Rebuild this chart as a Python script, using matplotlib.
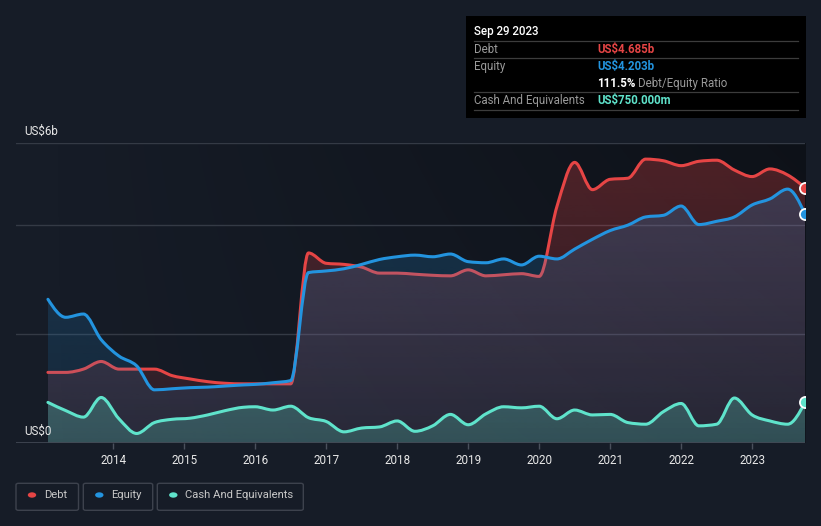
import numpy as np
import matplotlib
matplotlib.use("Agg")
import matplotlib.pyplot as plt
from matplotlib.path import Path
from matplotlib.patches import PathPatch, Rectangle, FancyBboxPatch, Circle

plt.rcParams['font.family'] = ['Roboto', 'DejaVu Sans']

# ---------------- data (US$ billions) ----------------
dates = [2013.08, 2013.33, 2013.58, 2013.83, 2014.08, 2014.33, 2014.58, 2014.83,
         2015.08, 2015.33, 2015.58, 2015.83, 2016.0, 2016.25, 2016.5, 2016.75,
         2017.0, 2017.25, 2017.5, 2017.75, 2018.0, 2018.25, 2018.5, 2018.75,
         2019.0, 2019.25, 2019.5, 2019.75, 2020.0, 2020.25, 2020.5, 2020.75,
         2021.0, 2021.25, 2021.5, 2021.75, 2022.0, 2022.25, 2022.5, 2022.75,
         2023.0, 2023.25, 2023.5, 2023.745]
debt = [1.30, 1.30, 1.36, 1.50, 1.36, 1.36, 1.36, 1.24,
        1.18, 1.13, 1.10, 1.09, 1.09, 1.09, 1.09, 3.49,
        3.30, 3.28, 3.23, 3.12, 3.12, 3.10, 3.08, 3.07,
        3.18, 3.07, 3.09, 3.11, 3.06, 4.34, 5.15, 4.65,
        4.84, 4.86, 5.21, 5.18, 5.09, 5.17, 5.19, 5.01,
        4.89, 5.03, 4.92, 4.685]
equity = [2.64, 2.31, 2.37, 1.90, 1.60, 1.42, 0.98, 1.00,
          1.02, 1.03, 1.05, 1.07, 1.08, 1.11, 1.15, 3.13,
          3.16, 3.20, 3.28, 3.37, 3.42, 3.45, 3.42, 3.47,
          3.33, 3.31, 3.38, 3.27, 3.43, 3.38, 3.56, 3.74,
          3.90, 4.00, 4.15, 4.18, 4.35, 4.01, 4.07, 4.15,
          4.37, 4.48, 4.66, 4.203]
cash = [0.75, 0.60, 0.48, 0.84, 0.45, 0.18, 0.38, 0.44,
        0.46, 0.52, 0.60, 0.66, 0.67, 0.61, 0.68, 0.47,
        0.40, 0.21, 0.28, 0.30, 0.41, 0.22, 0.32, 0.53,
        0.34, 0.54, 0.67, 0.65, 0.68, 0.45, 0.61, 0.52,
        0.53, 0.38, 0.35, 0.58, 0.73, 0.32, 0.35, 0.83,
        0.52, 0.41, 0.35, 0.75]
year_ticks = [2014, 2015, 2016, 2017, 2018, 2019, 2020, 2021, 2022, 2023]
series_names = ["Debt", "Equity", "Cash And Equivalents"]
tooltip_date = "Sep 29 2023"
tooltip_debt = "US$4.685b"
tooltip_equity = "US$4.203b"
tooltip_ratio = "111.5%"
tooltip_cash = "US$750.000m"

# ---------------- styling ----------------
BG = '#161c27'
RED = '#e64545'
BLUE = '#2394df'
TEAL = '#5fe3cb'
W, H = 821, 526


def fx(x):
    return x / W


def fy(y):
    return 1 - y / H


def monotone_path(x, y, close_base=None):
    x = np.asarray(x, float)
    y = np.asarray(y, float)
    n = len(x)
    h = np.diff(x)
    s = np.diff(y) / h
    m = np.zeros(n)
    for i in range(1, n - 1):
        h0, h1, s0, s1 = h[i - 1], h[i], s[i - 1], s[i]
        p = (s0 * h1 + s1 * h0) / (h0 + h1)
        m[i] = (np.sign(s0) + np.sign(s1)) * min(abs(s0), abs(s1), 0.5 * abs(p))
    m[0] = (3 * s[0] - m[1]) / 2 if n > 2 else s[0]
    m[-1] = (3 * s[-1] - m[-2]) / 2 if n > 2 else s[-1]
    verts = [(x[0], y[0])]
    codes = [Path.MOVETO]
    for i in range(n - 1):
        dx = h[i] / 3
        verts += [(x[i] + dx, y[i] + dx * m[i]), (x[i + 1] - dx, y[i + 1] - dx * m[i + 1]), (x[i + 1], y[i + 1])]
        codes += [Path.CURVE4] * 3
    if close_base is not None:
        verts += [(x[-1], close_base), (x[0], close_base), (x[0], y[0])]
        codes += [Path.LINETO, Path.LINETO, Path.CLOSEPOLY]
    return Path(verts, codes)


fig = plt.figure(figsize=(W / 100, H / 100), dpi=100, facecolor=BG)
ax_left, ax_right, ax_top, ax_bot = 16, 805, 143.3, 443.3
ax = fig.add_axes([fx(ax_left), fy(ax_bot), (ax_right - ax_left) / W, (ax_bot - ax_top) / H])
ax.set_facecolor(BG)
YMAX = 5.5
ax.set_xlim(2012.63, 2023.745)
ax.set_ylim(0, YMAX)
for sp in ax.spines.values():
    sp.set_visible(False)

x0d, x1d = dates[0], dates[-1]

# dark overlay over data range: darker toward the right and top
gx = np.linspace(0, 1, 200).reshape(1, -1)
gy = np.linspace(1, 0.6, 100).reshape(-1, 1)
ov = np.zeros((100, 200, 4))
ov[..., 3] = 0.38 * gx * gy
ax.imshow(ov, extent=[x0d, x1d, 0, YMAX], aspect='auto', zorder=0.5, interpolation='bilinear', origin='upper')

# gridlines
for g in [2, 4, YMAX]:
    ax.axhline(g, color='#343a45', lw=1, zorder=1)
ax.axhline(0, color='#434955', lw=1.2, zorder=9)


def grad_fill(xs, ys, color, a_top, a_bot, z):
    patch = PathPatch(monotone_path(xs, ys, close_base=0), facecolor='none', edgecolor='none')
    ax.add_patch(patch)
    rgb = matplotlib.colors.to_rgb(color)
    img = np.zeros((256, 1, 4))
    img[..., 0], img[..., 1], img[..., 2] = rgb
    img[:, 0, 3] = np.linspace(a_top, a_bot, 256)
    im = ax.imshow(img, extent=[x0d, x1d, 0, YMAX], aspect='auto', zorder=z,
                   interpolation='bilinear', origin='upper')
    im.set_clip_path(patch)


def line(xs, ys, color, z):
    ax.add_patch(PathPatch(monotone_path(xs, ys), facecolor='none', edgecolor=color, lw=2.2,
                           zorder=z, capstyle='round', joinstyle='round'))


grad_fill(dates, debt, RED, 0.30, 0.10, 2)
line(dates, debt, RED, 3)
grad_fill(dates, equity, BLUE, 0.25, 0.10, 4)
line(dates, equity, BLUE, 5)
grad_fill(dates, cash, TEAL, 0.45, 0.22, 6)
line(dates, cash, TEAL, 7)

for ser, c in [(debt, RED), (equity, BLUE), (cash, TEAL)]:
    ax.plot([dates[-1]], [ser[-1]], 'o', ms=8, mfc=c, mec='white', mew=1.3, zorder=10, clip_on=True)

ax.set_xticks(year_ticks)
ax.set_xticklabels([str(y) for y in year_ticks])
ax.set_yticks([])
ax.tick_params(axis='x', colors='#4a505c', length=4, width=1, pad=3.5, labelcolor='#e8e8e8', labelsize=8.4)

fig.text(fx(24), fy(131.7), "US$6b", color='#e8e8e8', fontsize=8.4, va='center', ha='left')
fig.text(fx(24), fy(431), "US$0", color='#e8e8e8', fontsize=8.4, va='center', ha='left')

# tooltip
fig.patches.append(Rectangle((fx(466), fy(118)), (806 - 466) / W, (118 - 16) / H,
                             transform=fig.transFigure, facecolor='black', edgecolor='none', zorder=1))
for ly in [41.3, 58.3, 92.3, 110]:
    fig.lines.append(plt.Line2D([fx(474), fx(798)], [fy(ly), fy(ly)], transform=fig.transFigure,
                                color='#3c3c3c', lw=0.9))
fig.text(fx(474), fy(31), tooltip_date, color='white', fontsize=8.3, va='center', ha='left', fontweight='medium')
fig.text(fx(474), fy(49.5), series_names[0], color='#9a9a9a', fontsize=8.3, va='center')
fig.text(fx(474), fy(66.3), series_names[1], color='#9a9a9a', fontsize=8.3, va='center')
fig.text(fx(474), fy(100.3), series_names[2], color='#9a9a9a', fontsize=8.3, va='center')
fig.text(fx(597), fy(49.5), tooltip_debt, color=RED, fontsize=8.3, va='center', fontweight='bold')
fig.text(fx(597), fy(66.3), tooltip_equity, color=BLUE, fontsize=8.3, va='center', fontweight='bold')
fig.text(fx(597), fy(100.3), tooltip_cash, color=TEAL, fontsize=8.3, va='center', fontweight='bold')
t = fig.text(fx(597), fy(83.3), tooltip_ratio, color='white', fontsize=8.3, va='center', fontweight='bold')
fig.canvas.draw()
bb = t.get_window_extent()
fig.text(bb.x1 / W + fx(3), fy(83.3), "Debt/Equity Ratio", color='#9a9a9a', fontsize=8.3, va='center')

# legend
boxes = [(16, 78.5), (83.3, 152.7), (157.3, 303.3)]
colors = [RED, BLUE, TEAL]
for (bx0, bx1), name, c in zip(boxes, series_names, colors):
    fig.patches.append(FancyBboxPatch((fx(bx0), fy(510.3)), (bx1 - bx0) / W, (510.3 - 483.3) / H,
                                      boxstyle='round,pad=0,rounding_size=0.003',
                                      transform=fig.transFigure, facecolor='none',
                                      edgecolor='#3d424d', lw=1))
    fig.patches.append(Circle((fx(bx0 + 16), fy(495)), 4.2 / W, transform=fig.transFigure,
                              facecolor=c, edgecolor='none'))
    fig.text(fx(bx0 + 28), fy(495.3), name, color='#c8c8c8', fontsize=8.1, va='center', ha='left')

fig.savefig('out.png', dpi=100, facecolor=BG)
